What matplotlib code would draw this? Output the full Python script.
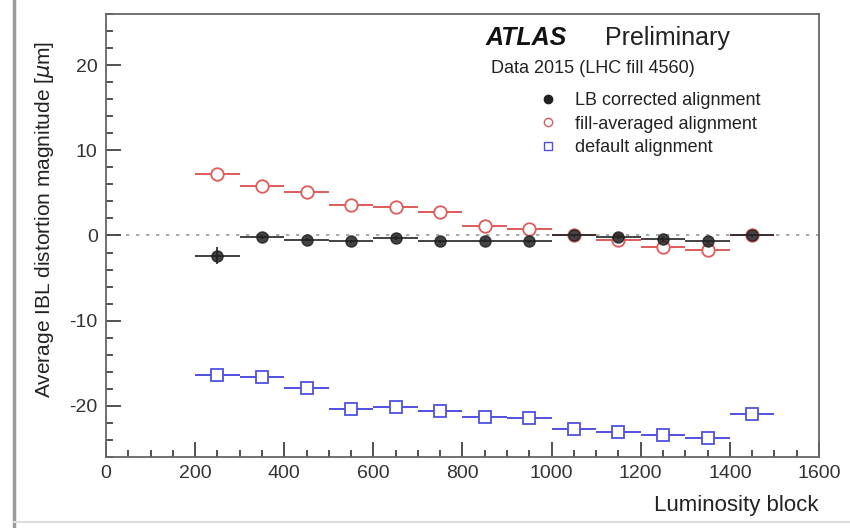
import numpy as np
import matplotlib.pyplot as plt
from matplotlib.lines import Line2D
from matplotlib.ticker import MultipleLocator

plt.rcParams['font.family'] = ['Liberation Sans', 'DejaVu Sans']
plt.rcParams['axes.unicode_minus'] = False

# Luminosity block bin centres and half-widths
lb = np.array([250, 350, 450, 550, 650, 750, 850, 950, 1050, 1150, 1250, 1350, 1450])
half_width = 50

# Average IBL distortion magnitude [um]
lb_corrected = np.array([-2.4, -0.2, -0.5, -0.7, -0.3, -0.7, -0.6, -0.7, 0.0, -0.2, -0.4, -0.7, 0.0])
lb_corrected_err = np.array([1.0, 0.2, 0.2, 0.2, 0.2, 0.2, 0.2, 0.2, 0.2, 0.2, 0.2, 0.2, 0.2])
fill_averaged = np.array([7.2, 5.8, 5.1, 3.6, 3.4, 2.8, 1.1, 0.8, 0.1, -0.5, -1.3, -1.7, 0.0])
default_align = np.array([-16.4, -16.6, -17.9, -20.4, -20.1, -20.6, -21.3, -21.4, -22.7, -23.1, -23.4, -23.8, -21.0])

labels = ['LB corrected alignment', 'fill-averaged alignment', 'default alignment']

red = '#e05a5a'
blue = '#5050e0'
dark = '#222222'

fig = plt.figure(figsize=(8.5, 5.28), dpi=100)
ax = fig.add_axes([0.1247, 0.1345, 0.8388, 0.839])

ax.axhline(0, color='#999999', linestyle=(0, (2, 4)), linewidth=1.2, zorder=1)

ax.errorbar(lb, fill_averaged, xerr=half_width, fmt='o', color=red, mfc='white',
            mec=red, ms=9, mew=1.3, elinewidth=1.4, capsize=0, zorder=3)
ax.errorbar(lb, default_align, xerr=half_width, fmt='s', color=blue, mfc='white',
            mec=blue, ms=8, mew=1.3, elinewidth=1.4, capsize=0, zorder=3)
ax.errorbar(lb, lb_corrected, xerr=half_width, yerr=lb_corrected_err, fmt='o',
            color=dark, ms=8, elinewidth=1.4, capsize=0, zorder=4, alpha=0.85)

ax.set_xlim(0, 1600)
ax.set_ylim(-26, 26)
ax.xaxis.set_major_locator(MultipleLocator(200))
ax.xaxis.set_minor_locator(MultipleLocator(50))
ax.yaxis.set_major_locator(MultipleLocator(10))
ax.yaxis.set_minor_locator(MultipleLocator(2))
ax.tick_params(which='both', direction='in', top=False, right=False,
               labelsize=14, colors='#333333', width=1.2)
ax.tick_params(which='major', length=11, pad=6)
ax.tick_params(which='minor', length=5)
for s in ax.spines.values():
    s.set_color('#666666')
    s.set_linewidth(1.3)

ax.set_xlabel('Luminosity block', fontsize=16, color='#222222', labelpad=10)
ax.xaxis.set_label_coords(1.0, -0.085)
ax.xaxis.label.set_horizontalalignment('right')
ax.set_ylabel(r'Average IBL distortion magnitude [$\mu$m]', fontsize=15,
              color='#222222', labelpad=10)
ax.yaxis.set_label_coords(-0.07, 0.94)
ax.yaxis.label.set_horizontalalignment('right')

ax.text(0.532, 0.945, 'ATLAS', transform=ax.transAxes, fontsize=18,
        fontweight='bold', fontstyle='italic', color='#111111', va='center')
ax.text(0.70, 0.945, 'Preliminary', transform=ax.transAxes, fontsize=18,
        color='#222222', va='center')
ax.text(0.54, 0.877, 'Data 2015 (LHC fill 4560)', transform=ax.transAxes,
        fontsize=13, color='#222222', va='center')

handles = [
    Line2D([], [], marker='o', color=dark, linestyle='none', ms=6),
    Line2D([], [], marker='o', color=red, mfc='white', linestyle='none', ms=6),
    Line2D([], [], marker='s', color=blue, mfc='white', linestyle='none', ms=6),
]
ax.legend(handles, labels, loc='upper left', bbox_to_anchor=(0.585, 0.86),
          frameon=False, fontsize=13, handlelength=1.0, handletextpad=1.0,
          labelspacing=0.35, labelcolor='#222222')

# slide frame lines
fig.add_artist(Line2D([0.016, 0.016], [0.0, 1.0], color='#9a9a9a', linewidth=2.5))
fig.add_artist(Line2D([0.016, 1.0], [0.012, 0.012], color='#dddddd', linewidth=1.5))

fig.savefig('out.png', dpi=100)
